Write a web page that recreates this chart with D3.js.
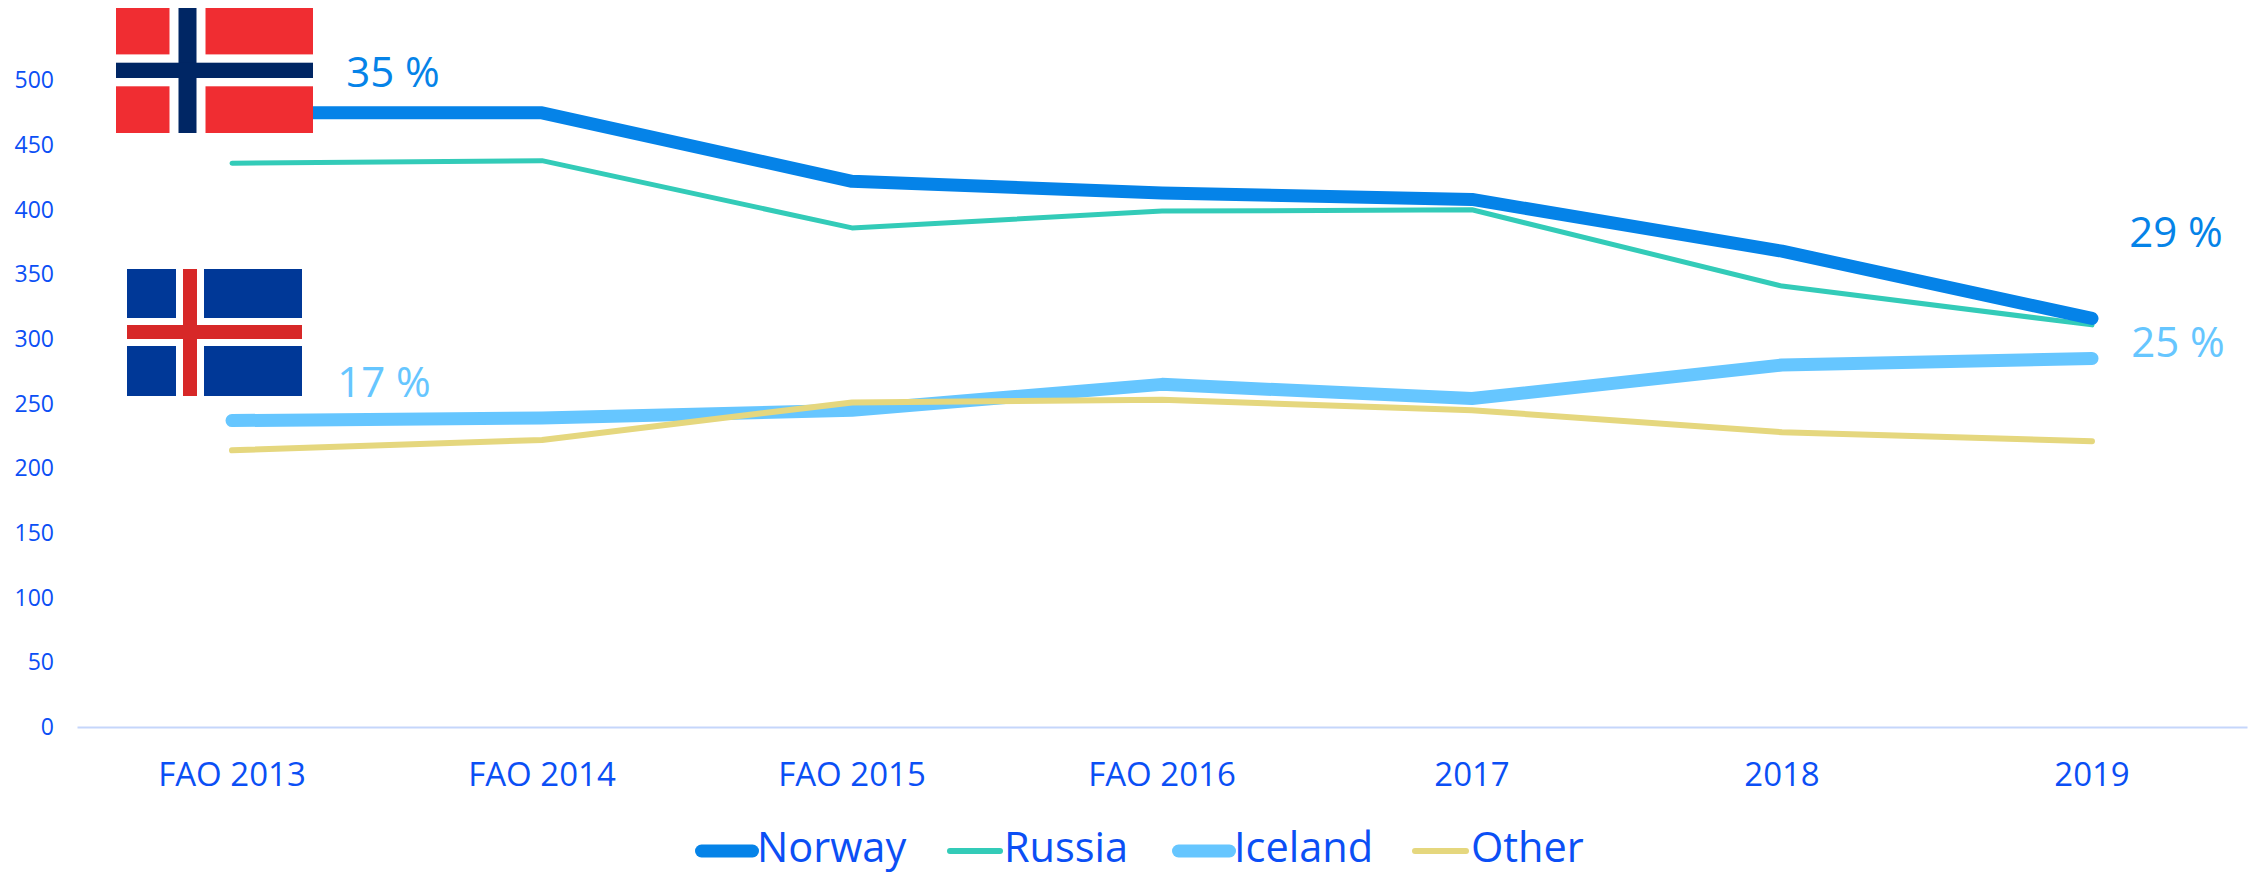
<!DOCTYPE html>
<html><head><meta charset="utf-8">
<script src="https://cdn.jsdelivr.net/npm/d3@7"></script>
<style>html,body{margin:0;padding:0;background:#fff}svg{display:block}text{font-family:"Open Sans",sans-serif}</style>
</head><body><svg id="c" width="2255" height="874"></svg>
<script>
const categories=["FAO 2013","FAO 2014","FAO 2015","FAO 2016","2017","2018","2019"];
const norway=[475,475,422,413,408,368,316];
const russia=[436,438,386,399,400,341,311];
const iceland=[237,239,245,265,254,280,285];
const other=[214,222,251,253,245,228,221];
const yTicks=[0,50,100,150,200,250,300,350,400,450,500];
const seriesNames=["Norway","Russia","Iceland","Other"];
const seriesValues=[norway,russia,iceland,other];
const seriesColors=["#0583E8","#33CBB8","#66C6FF","#E5D77E"];
const seriesWidths=[13,5,13,6];
const legendWidths=[13,6,13,6];
const annotations=[["35 %",0,475,"#0583E8",161,-26],["29 %",6,316,"#0583E8",84,-71],["17 %",0,237,"#66C6FF",152,-24],["25 %",6,285,"#66C6FF",86,-1]];
const textBlue="#0B4FF5";

const svg=d3.select("#c");
const x=d3.scaleBand().domain(categories).range([77,2247]);
const y=d3.scaleLinear().domain([0,500]).range([727,80.5]);
const cx=c=>x(c)+x.bandwidth()/2;

// axes
const gx=svg.append("g").attr("transform","translate(0,727)").call(d3.axisBottom(x).tickSize(0).tickPadding(36));
gx.select(".domain").attr("stroke","#C5D6FB").attr("stroke-width",2);
gx.selectAll("text").attr("fill",textBlue).style("font-size","33px");
const gy=svg.append("g").attr("transform","translate(54,0)").call(d3.axisLeft(y).tickValues(yTicks).tickSize(0).tickPadding(0));
gy.select(".domain").remove();
gy.selectAll("text").attr("fill",textBlue).style("font-size","23px");

// lines
const line=d3.line().x((d,i)=>cx(categories[i])).y(d=>y(d));
[1,0,2,3].forEach(k=>{
  svg.append("path").datum(seriesValues[k]).attr("d",line).attr("fill","none")
    .attr("stroke",seriesColors[k]).attr("stroke-width",seriesWidths[k])
    .attr("stroke-linecap","round").attr("stroke-linejoin","round");
});

// flags
function flag(x0,y0,w,h,bg,cross,fx,fw,fwb,fy,fh,fhb){
  const g=svg.append("g");
  g.append("rect").attr("x",x0).attr("y",y0).attr("width",w).attr("height",h).attr("fill",bg);
  g.append("rect").attr("x",x0+fx-fwb).attr("y",y0).attr("width",fw+2*fwb).attr("height",h).attr("fill","#fff");
  g.append("rect").attr("x",x0).attr("y",y0+fy-fhb).attr("width",w).attr("height",fh+2*fhb).attr("fill","#fff");
  g.append("rect").attr("x",x0+fx).attr("y",y0).attr("width",fw).attr("height",h).attr("fill",cross);
  g.append("rect").attr("x",x0).attr("y",y0+fy).attr("width",w).attr("height",fh).attr("fill",cross);
}
flag(116,8,197,125,"#F02D32","#002664",62.5,18,9,54.7,15.3,8.3);
flag(127,269,175,127,"#003897","#D72828",56,14,7,56,14,7);

// annotations
annotations.forEach(a=>{
  svg.append("text").attr("x",cx(categories[a[1]])+a[4]).attr("y",y(a[2])+a[5])
   .attr("fill",a[3]).style("font-size","42px").attr("text-anchor","middle").text(a[0]);
});

// legend
const legX=[695,947,1172,1412], legW=[64,56,64,57], legT=[757,1004,1234,1471];
seriesNames.forEach((n,i)=>{
  const w=legendWidths[i];
  svg.append("line").attr("x1",legX[i]+w/2).attr("x2",legX[i]+legW[i]-w/2).attr("y1",851).attr("y2",851)
    .attr("stroke",seriesColors[i]).attr("stroke-width",w).attr("stroke-linecap","round");
  svg.append("text").attr("x",legT[i]).attr("y",862).attr("fill",textBlue).style("font-size","41.5px").text(n);
});
</script></body></html>
